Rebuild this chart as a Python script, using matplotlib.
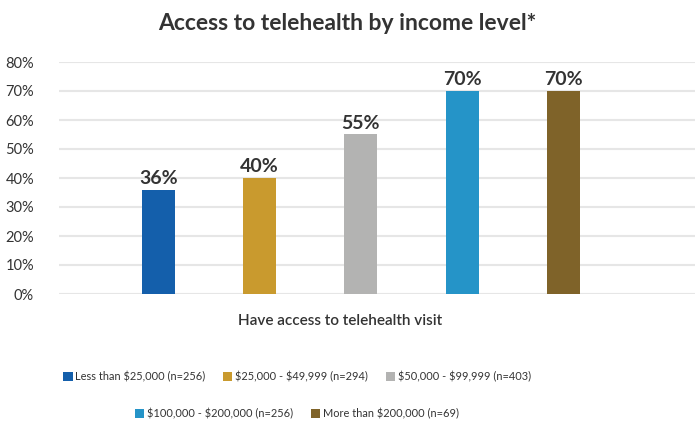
import matplotlib
matplotlib.use("Agg")
import matplotlib.pyplot as plt
from matplotlib.patches import Patch
import numpy as np

plt.rcParams['font.family'] = ['Lato', 'DejaVu Sans']
plt.rcParams['text.parse_math'] = False

categories = ["Less than $25,000 (n=256)", "$25,000 - $49,999 (n=294)",
              "$50,000 - $99,999 (n=403)", "$100,000 - $200,000 (n=256)",
              "More than $200,000 (n=69)"]
values = [36, 40, 55, 70, 70]
value_labels = ["36%", "40%", "55%", "70%", "70%"]
colors = ["#145FAB", "#C99A2E", "#B3B3B2", "#2594C8", "#7F6329"]
yticks = [0, 10, 20, 30, 40, 50, 60, 70, 80]
ytick_labels = ["0%", "10%", "20%", "30%", "40%", "50%", "60%", "70%", "80%"]
title = "Access to telehealth by income level*"
group_label = "Have access to telehealth visit"

W, H = 695, 422
fig = plt.figure(figsize=(W / 100, H / 100), dpi=100)
ax = fig.add_axes([59 / W, 1 - 294 / H, 636 / W, (294 - 62) / H])

x = np.arange(len(values))
ax.bar(x, values, width=0.327, color=colors, zorder=3)
for xi, v, lab in zip(x, values, value_labels):
    ax.text(xi, v + 1.0, lab, ha='center', va='bottom', fontsize=14,
            fontweight='bold', color='#333333')

ax.set_xlim(-0.98, 5.3)
ax.set_ylim(0, 80)
ax.set_yticks(yticks)
ax.set_yticklabels(ytick_labels, fontsize=10.5, color='#333333')
ax.set_xticks([])
ax.tick_params(axis='y', length=0, pad=18)
ax.grid(axis='y', color='#E6E6E6', linewidth=1.5, zorder=0)
for s in ax.spines.values():
    s.set_visible(False)

fig.text(347 / W, 1 - 23 / H, title, ha='center', va='center',
         fontsize=16.5, fontweight='bold', color='#333333')
fig.text(340 / W, 1 - 321 / H, group_label, ha='center', va='center',
         fontsize=11, fontweight='semibold', color='#333333')

handles = [Patch(facecolor=c, edgecolor='none') for c in colors]
common = dict(frameon=False, fontsize=7.9, handlelength=0.85, handleheight=0.85,
              handletextpad=0.25, columnspacing=1.6, borderpad=0,
              labelcolor='#333333')
leg1 = fig.legend(handles[:3], categories[:3], loc='center', ncol=3,
                  bbox_to_anchor=(297 / W, 1 - 377 / H), **common)
leg2 = fig.legend(handles[3:], categories[3:], loc='center', ncol=2,
                  bbox_to_anchor=(297 / W, 1 - 414 / H), **common)

fig.savefig("out.png", dpi=100)
